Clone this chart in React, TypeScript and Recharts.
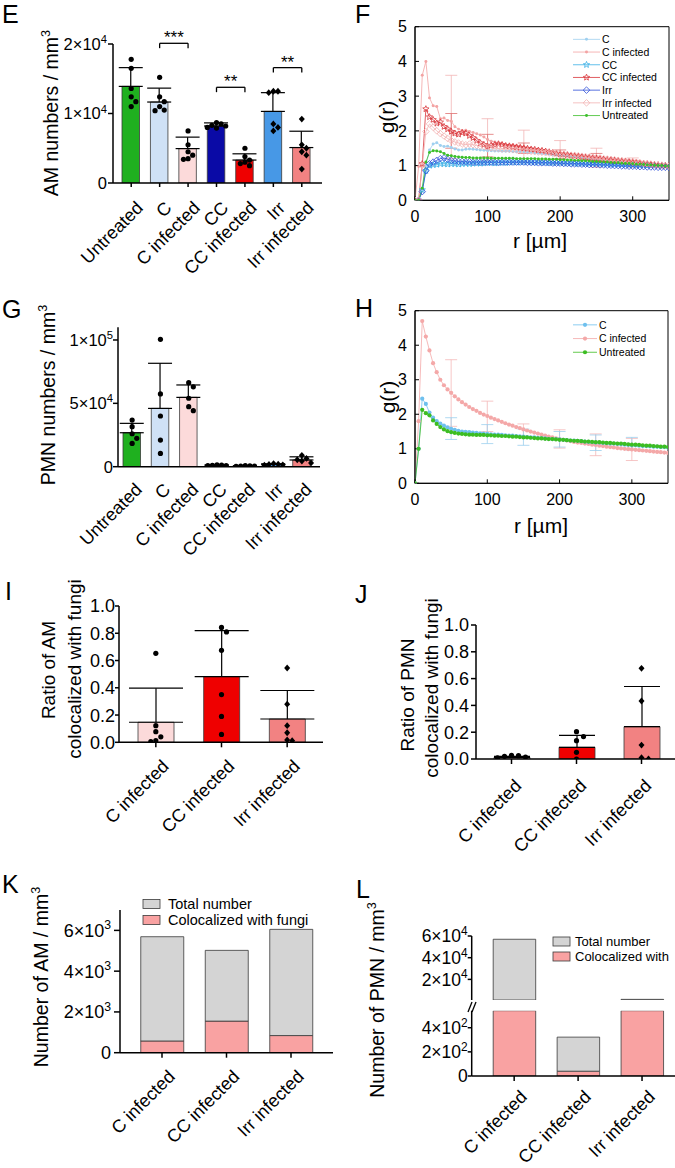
import React from "react";
import {
  ComposedChart,
  LineChart,
  Bar,
  Line,
  Scatter,
  XAxis,
  YAxis,
  ErrorBar,
  Cell,
  ReferenceLine,
  ReferenceDot,
  ReferenceArea,
} from "recharts";

const FONT = '"Liberation Sans", Arial, Helvetica, sans-serif';

// ---------- E / G: cell numbers per group ----------
const groups7 = ["Untreated", "C", "C infected", "CC", "CC infected", "Irr", "Irr infected"];
const colors7 = ["#1fb01f", "#cfe1f6", "#fcdada", "#0a0aa6", "#ef0000", "#4798e6", "#f28282"];
const marks7 = ["circle", "circle", "circle", "circle", "circle", "diamond", "diamond"];

const amMean = [13900, 11650, 4950, 8200, 3300, 10300, 5100];
const amSd = [2700, 2000, 1650, 450, 900, 2700, 2350];
const amPts = [
  [17800, 16500, 13600, 12400, 11700, 11000],
  [15200, 12400, 11700, 11000, 10500, 10400],
  [7500, 5500, 4500, 4000, 3500, 3400],
  [8700, 8500, 8300, 8200, 8000, 7900],
  [5000, 3800, 3300, 3000, 2800, 2500],
  [13200, 13200, 13000, 8500, 8000, 7500],
  [9200, 5500, 5000, 4500, 4000, 2000],
];
const sigPairs = [[1, 2], [3, 4], [5, 6]];
const sigLabels = ["***", "**", "**"];
const sigLevels = [20100, 13770, 16600];

const pmnMean = [26800, 46000, 54700, 1100, 550, 1800, 5300];
const pmnSd = [7400, 35600, 9800, 300, 200, 500, 2500];
const pmnPts = [
  [36800, 31600, 26000, 22400, 18400],
  [100500, 57400, 40000, 21000, 10500],
  [66300, 63000, 54000, 47400, 44200],
  [1500, 1200, 1000, 900, 800],
  [900, 600, 500, 400, 300],
  [2500, 2000, 1800, 1500, 1200],
  [9000, 6500, 5500, 4500, 3000],
];

// ---------- I / J: colocalization ratios ----------
const groups3 = ["C infected", "CC infected", "Irr infected"];
const colors3 = ["#fcdada", "#ef0000", "#f28282"];
const marks3 = ["circle", "circle", "diamond"];

const amRatioMean = [0.147, 0.482, 0.171];
const amRatioSd = [0.25, 0.338, 0.209];
const amRatioPts = [
  [0.653, 0.122, 0.078, 0.04, 0.012, 0.005],
  [0.843, 0.81, 0.675, 0.35, 0.19, 0.058],
  [0.545, 0.28, 0.122, 0.07, 0.017, 0.012],
];

const pmnRatioMean = [0.012, 0.087, 0.241];
const pmnRatioSd = [0.008, 0.09, 0.3];
const pmnRatioPts = [
  [0.028, 0.025, 0.02, 0.015, 0.008],
  [0.204, 0.167, 0.137, 0.05, 0.0],
  [0.677, 0.433, 0.104, 0.01, 0.0],
];

// ---------- K / L: total vs colocalized ----------
const amTotal = [5690, 5020, 6050];
const amColoc = [575, 1550, 840];
const pmnTotal = [57000, 322, 1600];
const pmnColoc = [900, 40, 800];

// ---------- F / H: pair correlation g(r) ----------
const rGrid = [
  0, 5, 10, 15, 20, 25, 30, 35, 40, 45, 50, 55, 60, 65, 70, 75, 80, 85, 90, 95,
  100, 105, 110, 115, 120, 125, 130, 135, 140, 145, 150, 155, 160, 165, 170, 175, 180, 185, 190, 195,
  200, 205, 210, 215, 220, 225, 230, 235, 240, 245, 250, 255, 260, 265, 270, 275, 280, 285, 290, 295,
  300, 305, 310, 315, 320, 325, 330, 335, 340, 345, 350,
];
const rTicks = [0, 100, 200, 300];
const gTicks = [0, 1, 2, 3, 4, 5];

const fC = [
  0, 0, 0.3, 1.0, 1.45, 1.62, 1.66, 1.58, 1.55, 1.56,
  1.52, 1.48, 1.45, 1.45, 1.47, 1.48, 1.47, 1.46, 1.45, 1.44,
  1.43, 1.43, 1.42, 1.42, 1.41, 1.41, 1.41, 1.4, 1.4, 1.4,
  1.4, 1.39, 1.38, 1.37, 1.36, 1.35, 1.34, 1.33, 1.32, 1.31,
  1.3, 1.29, 1.28, 1.27, 1.26, 1.24, 1.23, 1.22, 1.2, 1.19,
  1.18, 1.17, 1.16, 1.15, 1.14, 1.13, 1.12, 1.11, 1.1, 1.09,
  1.08, 1.07, 1.06, 1.05, 1.04, 1.03, 1.02, 1.02, 1.01, 1.0,
  1.0,
];
const fCi = [
  0, 0.97, 3.6, 4.0, 2.95, 2.72, 2.7, 2.35, 2.37, 2.3,
  2.28, 2.12, 2.05, 2.0, 2.02, 1.98, 1.95, 1.92, 1.88, 1.82,
  1.75, 1.7, 1.68, 1.65, 1.63, 1.6, 1.59, 1.58, 1.57, 1.55,
  1.53, 1.51, 1.49, 1.47, 1.46, 1.44, 1.43, 1.41, 1.4, 1.38,
  1.37, 1.35, 1.34, 1.32, 1.31, 1.29, 1.28, 1.26, 1.25, 1.23,
  1.22, 1.21, 1.19, 1.18, 1.17, 1.15, 1.14, 1.13, 1.12, 1.11,
  1.1, 1.09, 1.08, 1.07, 1.06, 1.05, 1.04, 1.03, 1.02, 1.01,
  1.0,
];
const fCC = [
  0, 0, 0.3, 0.85, 1.0, 1.02, 1.03, 1.05, 1.05, 1.04,
  1.05, 1.05, 1.04, 1.05, 1.06, 1.05, 1.06, 1.07, 1.06, 1.07,
  1.08, 1.08, 1.07, 1.08, 1.09, 1.08, 1.09, 1.1, 1.09, 1.1,
  1.1, 1.1, 1.1, 1.09, 1.1, 1.09, 1.09, 1.08, 1.08, 1.08,
  1.08, 1.07, 1.07, 1.07, 1.06, 1.06, 1.06, 1.05, 1.05, 1.05,
  1.05, 1.04, 1.04, 1.04, 1.03, 1.03, 1.03, 1.02, 1.02, 1.02,
  1.02, 1.01, 1.01, 1.01, 1.0, 1.0, 1.0, 1.0, 0.99, 0.99,
  0.99,
];
const fCCi = [
  0, 0, 1.05, 2.63, 2.4, 2.32, 2.22, 2.25, 2.12, 2.05,
  1.98, 1.93, 1.9, 1.95, 1.93, 1.86, 1.8, 1.72, 1.65, 1.6,
  1.55, 1.58, 1.6, 1.62, 1.6, 1.57, 1.56, 1.55, 1.53, 1.52,
  1.5, 1.49, 1.47, 1.46, 1.44, 1.43, 1.41, 1.39, 1.37, 1.35,
  1.33, 1.32, 1.31, 1.29, 1.28, 1.27, 1.25, 1.24, 1.23, 1.22,
  1.21, 1.2, 1.18, 1.17, 1.16, 1.15, 1.14, 1.13, 1.12, 1.11,
  1.1, 1.09, 1.07, 1.06, 1.05, 1.04, 1.03, 1.02, 1.01, 1.0,
  1.0,
];
const fIrr = [
  0, 0, 0.25, 0.85, 1.05, 1.1, 1.15, 1.2, 1.22, 1.18,
  1.15, 1.13, 1.12, 1.12, 1.11, 1.11, 1.1, 1.1, 1.1, 1.1,
  1.1, 1.1, 1.1, 1.09, 1.1, 1.1, 1.1, 1.1, 1.1, 1.1,
  1.1, 1.09, 1.09, 1.09, 1.08, 1.08, 1.08, 1.08, 1.07, 1.07,
  1.07, 1.06, 1.06, 1.05, 1.05, 1.05, 1.04, 1.04, 1.03, 1.03,
  1.03, 1.02, 1.02, 1.01, 1.01, 1.0, 1.0, 0.99, 0.99, 0.98,
  0.98, 0.98, 0.97, 0.97, 0.96, 0.96, 0.96, 0.95, 0.95, 0.95,
  0.95,
];
const fIrri = [
  0, 0, 1.0, 1.98, 2.2, 2.1, 2.0, 1.92, 1.85, 1.78,
  1.72, 1.68, 1.65, 1.62, 1.6, 1.62, 1.6, 1.58, 1.56, 1.55,
  1.53, 1.51, 1.5, 1.49, 1.48, 1.48, 1.47, 1.46, 1.45, 1.44,
  1.43, 1.42, 1.41, 1.4, 1.39, 1.38, 1.37, 1.36, 1.35, 1.34,
  1.33, 1.32, 1.31, 1.3, 1.29, 1.28, 1.27, 1.26, 1.25, 1.24,
  1.23, 1.22, 1.2, 1.19, 1.18, 1.17, 1.15, 1.14, 1.13, 1.12,
  1.1, 1.09, 1.08, 1.06, 1.05, 1.04, 1.02, 1.01, 1.0, 0.99,
  0.98,
];
const fUnt = [
  0, 0, 0.35, 1.1, 1.38, 1.43, 1.42, 1.4, 1.35, 1.3,
  1.28, 1.26, 1.25, 1.24, 1.23, 1.23, 1.22, 1.22, 1.22, 1.22,
  1.22, 1.21, 1.21, 1.21, 1.21, 1.21, 1.21, 1.21, 1.2, 1.2,
  1.2, 1.2, 1.2, 1.2, 1.19, 1.19, 1.19, 1.18, 1.18, 1.18,
  1.17, 1.17, 1.16, 1.16, 1.15, 1.15, 1.14, 1.14, 1.13, 1.12,
  1.12, 1.11, 1.1, 1.1, 1.09, 1.08, 1.08, 1.07, 1.06, 1.06,
  1.05, 1.04, 1.04, 1.03, 1.02, 1.02, 1.01, 1.0, 1.0, 0.99,
  0.99,
];

const hC = [
  0, 1.0, 2.45, 2.3, 2.05, 1.9, 1.8, 1.73, 1.67, 1.62,
  1.58, 1.55, 1.52, 1.5, 1.49, 1.48, 1.47, 1.46, 1.45, 1.44,
  1.43, 1.42, 1.41, 1.41, 1.4, 1.39, 1.38, 1.38, 1.37, 1.36,
  1.35, 1.34, 1.33, 1.33, 1.32, 1.31, 1.3, 1.29, 1.28, 1.28,
  1.27, 1.26, 1.25, 1.24, 1.24, 1.23, 1.22, 1.21, 1.2, 1.19,
  1.18, 1.18, 1.17, 1.16, 1.15, 1.15, 1.14, 1.13, 1.12, 1.11,
  1.1, 1.1, 1.09, 1.08, 1.08, 1.07, 1.06, 1.06, 1.05, 1.05,
  1.04,
];
const hCi = [
  0, 1.8, 4.7, 4.25, 3.85, 3.48, 3.22, 3.0, 2.84, 2.72,
  2.62, 2.52, 2.43, 2.35, 2.28, 2.21, 2.15, 2.1, 2.04, 1.99,
  1.95, 1.9, 1.86, 1.82, 1.78, 1.74, 1.7, 1.67, 1.63, 1.6,
  1.56, 1.53, 1.5, 1.47, 1.44, 1.41, 1.38, 1.35, 1.33, 1.3,
  1.28, 1.26, 1.24, 1.22, 1.2, 1.18, 1.17, 1.15, 1.14, 1.12,
  1.11, 1.09, 1.08, 1.06, 1.05, 1.04, 1.02, 1.01, 1.0, 0.99,
  0.98, 0.97, 0.96, 0.95, 0.94, 0.93, 0.92, 0.91, 0.9, 0.89,
  0.88,
];
const hUnt = [
  0, 1.0, 2.13, 2.03, 1.97, 1.82, 1.72, 1.63, 1.56, 1.51,
  1.48, 1.46, 1.44, 1.43, 1.42, 1.41, 1.41, 1.4, 1.4, 1.4,
  1.39, 1.39, 1.38, 1.38, 1.37, 1.37, 1.36, 1.35, 1.35, 1.34,
  1.33, 1.33, 1.32, 1.31, 1.3, 1.3, 1.29, 1.28, 1.28, 1.27,
  1.26, 1.26, 1.25, 1.24, 1.23, 1.23, 1.22, 1.21, 1.21, 1.2,
  1.19, 1.19, 1.18, 1.17, 1.17, 1.16, 1.15, 1.15, 1.14, 1.13,
  1.12, 1.12, 1.11, 1.1, 1.09, 1.09, 1.08, 1.07, 1.06, 1.06,
  1.05,
];

// error bars (upper / lower ends) at these radii
const errR = [50, 100, 150, 200, 250, 300];
const fCiHi = [3.6, 2.35, 2.02, 1.72, 1.5, 1.22];
const fCiLo = [1.2, 1.15, 1.1, 1.05, 0.95, 0.95];
const fCCiHi = [2.5, 1.9, 1.65, 1.45, 1.35, 1.15];
const fCCiLo = [1.5, 1.25, 1.35, 1.2, 1.1, 1.0];
const hCiHi = [3.58, 2.38, 1.72, 1.55, 1.43, 1.3];
const hCiLo = [1.65, 1.5, 1.35, 1.02, 0.8, 0.66];
const hCHi = [1.9, 1.7, 1.57, 1.5, 1.4, 1.33];
const hCLo = [1.27, 1.15, 1.1, 1.05, 0.95, 0.97];

type Series = { key: string; name: string; color: string; mark: string; vals: number[] };

const seriesF: Series[] = [
  { key: "c", name: "C", color: "#9fd0f0", mark: "dot", vals: fC },
  { key: "ci", name: "C infected", color: "#f3a3a3", mark: "dot", vals: fCi },
  { key: "cc", name: "CC", color: "#3bb0e6", mark: "star", vals: fCC },
  { key: "cci", name: "CC infected", color: "#d9363b", mark: "star", vals: fCCi },
  { key: "irr", name: "Irr", color: "#2f4fd8", mark: "diamond", vals: fIrr },
  { key: "irri", name: "Irr infected", color: "#f2b3b3", mark: "diamond", vals: fIrri },
  { key: "unt", name: "Untreated", color: "#3cbf2a", mark: "dot", vals: fUnt },
];
const seriesH: Series[] = [
  { key: "ci", name: "C infected", color: "#f4a8a8", mark: "dot", vals: hCi },
  { key: "c", name: "C", color: "#6fc0ee", mark: "dot", vals: hC },
  { key: "unt", name: "Untreated", color: "#3cbd22", mark: "dot", vals: hUnt },
];
const legendH = [seriesH[1], seriesH[0], seriesH[2]];

type Rect = { left: number; top: number; width: number; height: number };
type Plot = { x0: number; x1: number; y0: number; y1: number };

const margins = (b: Rect, p: Plot, withX = true) => ({
  left: p.x0 - 50,
  right: b.width - p.x1,
  top: p.y0,
  bottom: b.height - p.y1 - (withX ? 30 : 0),
});

// spread points sideways when their values are close
function swarm(pts: number[][], tol: number) {
  const out: { x: number; v: number; s: number }[] = [];
  pts.forEach((vals, gi) => {
    const placed: { v: number; s: number }[] = [];
    vals.forEach(v => {
      let s = 0;
      for (let k = 0; k < 14; k++) {
        s = k === 0 ? 0 : k % 2 ? (k + 1) / 2 : -k / 2;
        if (!placed.some(p => p.s === s && Math.abs(p.v - v) < tol)) break;
      }
      placed.push({ v, s });
      out.push({ x: gi, v, s });
    });
  });
  return out;
}

const sciTick = (fs: number) => (p: any) => {
  const v = p.payload.value;
  const exp = v === 0 ? 0 : Math.floor(Math.log10(v) + 1e-9);
  const m = v === 0 ? 0 : Math.round(v / Math.pow(10, exp));
  return (
    <text x={p.x} y={p.y} dy={fs * 0.36} textAnchor="end" fontSize={fs} fontFamily={FONT} fill="#000">
      {v === 0 ? "0" : `${m}×10`}
      {v !== 0 && (
        <tspan dy={-fs * 0.42} fontSize={fs * 0.68}>
          {exp}
        </tspan>
      )}
    </text>
  );
};

const decTick = (fs: number) => (p: any) => (
  <text x={p.x} y={p.y} dy={fs * 0.36} textAnchor="end" fontSize={fs} fontFamily={FONT} fill="#000">
    {Number(p.payload.value).toFixed(1)}
  </text>
);

const catTick = (names: string[], fs: number, dx: number, dy: number) => (p: any) => {
  const x = p.x + dx;
  const y = p.y + dy;
  return (
    <text x={x} y={y} transform={`rotate(-45 ${x} ${y})`} textAnchor="end" fontSize={fs} fontFamily={FONT} fill="#000">
      {names[p.payload.value]}
    </text>
  );
};

const dotShape = (marks: string[], step: number) => (p: any) => {
  const d = p.payload ?? p;
  const cx = p.cx + d.s * step;
  const cy = p.cy;
  if (marks[d.x] === "diamond") {
    return <path d={`M${cx},${cy - 3.4}L${cx + 3},${cy}L${cx},${cy + 3.4}L${cx - 3},${cy}Z`} fill="#000" />;
  }
  return <circle cx={cx} cy={cy} r={2.6} fill="#000" />;
};

type DotBarsProps = {
  names: string[];
  means: number[];
  sds: number[];
  pts: number[][];
  colors: string[];
  marks: string[];
  box: Rect;
  plot: Plot;
  yMax: number;
  yTicks: number[];
  yTick: any;
  ySize: number;
  yGap: number;
  pad: { left: number; right: number };
  barSize: number;
  cap: number;
  xTickSize: number;
  cat: { fs: number; dx: number; dy: number };
  step: number;
  children?: React.ReactNode;
};

function DotBars(props: DotBarsProps) {
  const { names, means, sds, pts, colors, marks, box, plot, yMax, yTicks, yTick, ySize, yGap, pad, barSize, cap, xTickSize, cat, step } = props;
  const table = names.map((n, i) => ({ x: i, name: n, mean: means[i], err: [0, sds[i]] }));
  const dots = swarm(pts, yMax * 0.04);
  return (
    <div style={{ position: "absolute", left: box.left, top: box.top }}>
      <ComposedChart width={box.width} height={box.height} data={table} margin={margins(box, plot)}>
        <XAxis
          type="number"
          dataKey="x"
          domain={[-0.5, names.length - 0.5]}
          ticks={names.map((_, i) => i)}
          allowDataOverflow
          padding={pad}
          height={30}
          interval={0}
          axisLine={{ stroke: "#000", strokeWidth: 1.5 }}
          tickLine={xTickSize > 0 ? { stroke: "#000", strokeWidth: 1.5 } : false}
          tickSize={xTickSize}
          tickMargin={0}
          tick={catTick(names, cat.fs, cat.dx, cat.dy)}
        />
        <YAxis
          type="number"
          domain={[0, yMax]}
          ticks={yTicks}
          allowDataOverflow
          width={50}
          interval={0}
          axisLine={{ stroke: "#000", strokeWidth: 1.5 }}
          tickLine={{ stroke: "#000", strokeWidth: 1.5 }}
          tickSize={ySize}
          tickMargin={yGap}
          tick={yTick}
        />
        <Bar dataKey="mean" barSize={barSize} stroke="#3a3a3a" strokeWidth={0.8} isAnimationActive={false}>
          {colors.map((c, i) => (
            <Cell key={i} fill={c} />
          ))}
          <ErrorBar dataKey="err" width={cap} stroke="#000" strokeWidth={1.2} direction="y" />
        </Bar>
        <Scatter data={dots} dataKey="v" isAnimationActive={false} shape={dotShape(marks, step)} />
        {props.children}
      </ComposedChart>
    </div>
  );
}

type StackProps = {
  names: string[];
  totals: number[];
  parts: number[];
  box: Rect;
  plot: Plot;
  yDomain: [number, number];
  yTicks: number[];
  ySize: number;
  yGap: number;
  pad: { left: number; right: number };
  barSize: number;
  showX: boolean;
  fs: number;
  cat: { fs: number; dx: number; dy: number };
};

function StackBars(props: StackProps) {
  const { names, totals, parts, box, plot, yDomain, yTicks, ySize, yGap, pad, barSize, showX, fs, cat } = props;
  const table = names.map((n, i) => ({ x: i, name: n, part: parts[i], rest: totals[i] - parts[i] }));
  return (
    <div style={{ position: "absolute", left: box.left, top: box.top }}>
      <ComposedChart width={box.width} height={box.height} data={table} margin={margins(box, plot, showX)}>
        <XAxis
          type="number"
          dataKey="x"
          domain={[-0.5, names.length - 0.5]}
          ticks={names.map((_, i) => i)}
          allowDataOverflow
          padding={pad}
          hide={!showX}
          height={30}
          interval={0}
          axisLine={{ stroke: "#000", strokeWidth: 1.5 }}
          tickLine={{ stroke: "#000", strokeWidth: 1.5 }}
          tickSize={5}
          tickMargin={0}
          tick={catTick(names, cat.fs, cat.dx, cat.dy)}
        />
        <YAxis
          type="number"
          domain={yDomain}
          ticks={yTicks}
          allowDataOverflow
          width={50}
          interval={0}
          axisLine={{ stroke: "#000", strokeWidth: 1.5 }}
          tickLine={{ stroke: "#000", strokeWidth: 1.5 }}
          tickSize={ySize}
          tickMargin={yGap}
          tick={sciTick(fs)}
        />
        <Bar dataKey="part" stackId="s" barSize={barSize} fill="#f9a2a2" stroke="#3a3a3a" strokeWidth={0.8} isAnimationActive={false} />
        <Bar dataKey="rest" stackId="s" barSize={barSize} fill="#d4d4d4" stroke="#3a3a3a" strokeWidth={0.8} isAnimationActive={false} />
      </ComposedChart>
    </div>
  );
}

function markGlyph(kind: string, cx: number, cy: number, color: string, s: number, key?: React.Key) {
  if (kind === "diamond") {
    return (
      <path key={key} d={`M${cx},${cy - s}L${cx + s},${cy}L${cx},${cy + s}L${cx - s},${cy}Z`} fill="none" stroke={color} strokeWidth={0.8} />
    );
  }
  if (kind === "star") {
    let d = "";
    for (let k = 0; k < 10; k++) {
      const a = ((-90 + k * 36) * Math.PI) / 180;
      const rr = k % 2 ? s * 0.45 : s;
      d += `${k ? "L" : "M"}${cx + rr * Math.cos(a)},${cy + rr * Math.sin(a)}`;
    }
    return <path key={key} d={d + "Z"} fill="none" stroke={color} strokeWidth={0.8} />;
  }
  return <circle key={key} cx={cx} cy={cy} r={s * 0.62} fill={color} />;
}

type ErrSet = { color: string; vals: number[]; hi: number[]; lo: number[] };

function GrPanel({ series, errs, box, plot, mSize }: { series: Series[]; errs: ErrSet[]; box: Rect; plot: Plot; mSize: number }) {
  const table = rGrid.map((r, i) => {
    const row: any = { r };
    series.forEach(s => (row[s.key] = s.vals[i]));
    return row;
  });
  const errData = errs.map(e =>
    errR.map((r, j) => {
      const y = e.vals[rGrid.indexOf(r)];
      return { r, y, e: [y - e.lo[j], e.hi[j] - y] };
    })
  );
  const axis = { stroke: "#000", strokeWidth: 1 };
  return (
    <div style={{ position: "absolute", left: box.left, top: box.top }}>
      <LineChart width={box.width} height={box.height} data={table} margin={margins(box, plot)}>
        <XAxis
          type="number"
          dataKey="r"
          domain={[0, 350]}
          ticks={rTicks}
          allowDataOverflow
          height={30}
          interval={0}
          axisLine={axis}
          tickLine={axis}
          tickSize={-4}
          tickMargin={14}
          tick={{ fill: "#000", fontSize: 16, fontFamily: FONT }}
        />
        <XAxis xAxisId="top" orientation="top" type="number" domain={[0, 350]} ticks={rTicks} allowDataOverflow height={0} axisLine={axis} tickLine={axis} tickSize={-4} tick={false} />
        <YAxis
          type="number"
          domain={[0, 5]}
          ticks={gTicks}
          allowDataOverflow
          width={50}
          interval={0}
          axisLine={axis}
          tickLine={axis}
          tickSize={-4}
          tickMargin={12}
          tick={{ fill: "#000", fontSize: 16, fontFamily: FONT }}
        />
        <YAxis yAxisId="right" orientation="right" type="number" domain={[0, 5]} ticks={gTicks} allowDataOverflow width={0} axisLine={axis} tickLine={axis} tickSize={-4} tick={false} />
        <ReferenceArea x1={0} x2={350} y1={0} y2={5} fill="none" stroke="#000" strokeWidth={1} />
        {errs.map((e, i) => (
          <Line key={`e${i}`} data={errData[i]} dataKey="y" stroke="none" dot={false} activeDot={false} isAnimationActive={false}>
            <ErrorBar dataKey="e" width={6} stroke={e.color} strokeWidth={0.8} direction="y" />
          </Line>
        ))}
        {series.map(s => (
          <Line
            key={s.key}
            dataKey={s.key}
            stroke={s.color}
            strokeWidth={0.8}
            activeDot={false}
            isAnimationActive={false}
            dot={(p: any) => markGlyph(s.mark, p.cx, p.cy, s.color, s.mark === "dot" ? mSize : mSize + 0.9, p.index)}
          />
        ))}
      </LineChart>
    </div>
  );
}

function SeriesLegend({ items, left, top, rowH, lineW, fs, mSize }: { items: Series[]; left: number; top: number; rowH: number; lineW: number; fs: number; mSize: number }) {
  return (
    <svg style={{ position: "absolute", left, top, overflow: "visible" }} width={95} height={rowH * items.length}>
      {items.map((s, i) => {
        const cy = rowH * (i + 0.5);
        return (
          <g key={s.key + i}>
            <line x1={0} x2={lineW} y1={cy} y2={cy} stroke={s.color} strokeWidth={0.8} />
            {markGlyph(s.mark, lineW / 2, cy, s.color, s.mark === "dot" ? mSize : mSize + 0.9)}
            <text x={lineW + 2} y={cy} dy={fs * 0.36} fontSize={fs} fontFamily={FONT} fill="#000">
              {s.name}
            </text>
          </g>
        );
      })}
    </svg>
  );
}

function BoxLegend({ left, top, rowH, fs, gap, labels }: { left: number; top: number; rowH: number; fs: number; gap: number; labels: string[] }) {
  const fills = ["#d4d4d4", "#f9a2a2"];
  return (
    <svg style={{ position: "absolute", left, top, overflow: "visible" }} width={170} height={rowH * 2}>
      {labels.map((l, i) => {
        const cy = rowH * (i + 0.5);
        return (
          <g key={l}>
            <rect x={0} y={cy - 4.5} width={17} height={9} fill={fills[i]} stroke="#3a3a3a" strokeWidth={0.8} />
            <text x={gap} y={cy} dy={fs * 0.36} fontSize={fs} fontFamily={FONT} fill="#000">
              {l}
            </text>
          </g>
        );
      })}
    </svg>
  );
}

const Sup = ({ children }: { children: React.ReactNode }) => (
  <span style={{ fontSize: "0.65em", position: "relative", top: "-0.6em" }}>{children}</span>
);

function Txt({ x, y, fs, rot, children }: { x: number; y: number; fs: number; rot?: boolean; children: React.ReactNode }) {
  return (
    <div
      style={{
        position: "absolute",
        left: x,
        top: y,
        fontSize: fs,
        lineHeight: 1,
        whiteSpace: "nowrap",
        transform: `translate(-50%, -50%)${rot ? " rotate(-90deg)" : ""}`,
      }}
    >
      {children}
    </div>
  );
}

const Letter = ({ x, y, children }: { x: number; y: number; children: React.ReactNode }) => (
  <div style={{ position: "absolute", left: x, top: y, fontSize: 25, lineHeight: 1 }}>{children}</div>
);

export default function App() {
  const catE = { fs: 18, dx: 13, dy: 22 };
  const catG = { fs: 18, dx: 11, dy: 24 };
  const catLow = { fs: 18, dx: 14, dy: 20 };
  return (
    <div style={{ position: "absolute", left: 0, top: 0, width: 675, height: 1168, overflow: "hidden", background: "#fff", fontFamily: FONT, color: "#000" }}>
      {/* E */}
      <DotBars
        names={groups7}
        means={amMean}
        sds={amSd}
        pts={amPts}
        colors={colors7}
        marks={marks7}
        box={{ left: 0, top: 0, width: 335, height: 290 }}
        plot={{ x0: 113, x1: 322, y0: 44, y1: 183 }}
        yMax={20000}
        yTicks={[0, 10000, 20000]}
        yTick={sciTick(16.5)}
        ySize={5}
        yGap={1}
        pad={{ left: 4, right: 6 }}
        barSize={17.5}
        cap={12}
        xTickSize={4}
        cat={catE}
        step={4.6}
      >
        {sigPairs.map(([a, b], i) => (
          <ReferenceLine key={`h${i}`} segment={[{ x: a, y: sigLevels[i] }, { x: b, y: sigLevels[i] }]} stroke="#000" strokeWidth={1.3} ifOverflow="visible" />
        ))}
        {sigPairs.map(([a], i) => (
          <ReferenceLine key={`a${i}`} segment={[{ x: a, y: sigLevels[i] }, { x: a, y: sigLevels[i] - 700 }]} stroke="#000" strokeWidth={1.3} ifOverflow="visible" />
        ))}
        {sigPairs.map(([, b], i) => (
          <ReferenceLine key={`b${i}`} segment={[{ x: b, y: sigLevels[i] }, { x: b, y: sigLevels[i] - 700 }]} stroke="#000" strokeWidth={1.3} ifOverflow="visible" />
        ))}
        {sigPairs.map(([a, b], i) => (
          <ReferenceDot
            key={`l${i}`}
            x={(a + b) / 2}
            y={sigLevels[i]}
            r={0}
            fill="none"
            stroke="none"
            ifOverflow="visible"
            label={{ value: sigLabels[i], position: "top", offset: 0, fontSize: 17, fill: "#000", fontFamily: FONT }}
          />
        ))}
      </DotBars>
      <Letter x={2} y={2}>E</Letter>
      <Txt x={52} y={113} fs={19.5} rot>
        AM numbers / mm<Sup>3</Sup>
      </Txt>

      {/* F */}
      <GrPanel
        series={seriesF}
        errs={[
          { color: "#f3b5b5", vals: fCi, hi: fCiHi, lo: fCiLo },
          { color: "#e07070", vals: fCCi, hi: fCCiHi, lo: fCCiLo },
        ]}
        box={{ left: 340, top: 0, width: 335, height: 290 }}
        plot={{ x0: 75, x1: 329, y0: 26.7, y1: 200.3 }}
        mSize={2.4}
      />
      <SeriesLegend items={seriesF} left={573} top={33} rowH={12.7} lineW={27} fs={10.5} mSize={2.4} />
      <Letter x={355} y={2}>F</Letter>
      <Txt x={386} y={117} fs={21} rot>g(r)</Txt>
      <Txt x={540} y={240} fs={21}>r [µm]</Txt>

      {/* G */}
      <DotBars
        names={groups7}
        means={pmnMean}
        sds={pmnSd}
        pts={pmnPts}
        colors={colors7}
        marks={marks7}
        box={{ left: 0, top: 290, width: 335, height: 280 }}
        plot={{ x0: 118, x1: 320, y0: 37.3, y1: 176.7 }}
        yMax={110000}
        yTicks={[0, 50000, 100000]}
        yTick={sciTick(16.5)}
        ySize={5}
        yGap={0}
        pad={{ left: 0, right: 4 }}
        barSize={17.5}
        cap={12}
        xTickSize={0}
        cat={catG}
        step={4.6}
      />
      <Letter x={2} y={297}>G</Letter>
      <Txt x={49} y={395} fs={19.5} rot>
        PMN numbers / mm<Sup>3</Sup>
      </Txt>

      {/* H */}
      <GrPanel
        series={seriesH}
        errs={[
          { color: "#f4b8b8", vals: hCi, hi: hCiHi, lo: hCiLo },
          { color: "#9ccfee", vals: hC, hi: hCHi, lo: hCLo },
        ]}
        box={{ left: 340, top: 290, width: 335, height: 280 }}
        plot={{ x0: 75, x1: 328, y0: 20.7, y1: 193.3 }}
        mSize={3.4}
      />
      <SeriesLegend items={legendH} left={573} top={318} rowH={13.7} lineW={24} fs={10.5} mSize={3.4} />
      <Letter x={355} y={296}>H</Letter>
      <Txt x={387} y={397} fs={21} rot>g(r)</Txt>
      <Txt x={541} y={525} fs={21}>r [µm]</Txt>

      {/* I */}
      <DotBars
        names={groups3}
        means={amRatioMean}
        sds={amRatioSd}
        pts={amRatioPts}
        colors={colors3}
        marks={marks3}
        box={{ left: 0, top: 570, width: 335, height: 290 }}
        plot={{ x0: 119, x1: 323, y0: 36, y1: 172.3 }}
        yMax={1}
        yTicks={[0, 0.2, 0.4, 0.6, 0.8, 1.0]}
        yTick={decTick(18)}
        ySize={4}
        yGap={0}
        pad={{ left: 4, right: 3 }}
        barSize={36}
        cap={27}
        xTickSize={5}
        cat={catLow}
        step={5}
      />
      <Letter x={5} y={579}>I</Letter>
      <Txt x={48} y={670} fs={19} rot>Ratio of AM</Txt>
      <Txt x={74} y={669} fs={19} rot>colocalized with fungi</Txt>

      {/* J */}
      <DotBars
        names={groups3}
        means={pmnRatioMean}
        sds={pmnRatioSd}
        pts={pmnRatioPts}
        colors={colors3}
        marks={marks3}
        box={{ left: 340, top: 570, width: 345, height: 290 }}
        plot={{ x0: 136, x1: 337, y0: 55, y1: 189 }}
        yMax={1}
        yTicks={[0, 0.2, 0.4, 0.6, 0.8, 1.0]}
        yTick={decTick(18)}
        ySize={5}
        yGap={2}
        pad={{ left: 3, right: 3 }}
        barSize={36}
        cap={18}
        xTickSize={5}
        cat={{ fs: 18, dx: 11, dy: 23 }}
        step={7}
      />
      <Letter x={355} y={582}>J</Letter>
      <Txt x={407} y={695} fs={19} rot>Ratio of PMN</Txt>
      <Txt x={431} y={688} fs={19} rot>colocalized with fungi</Txt>

      {/* K */}
      <StackBars
        names={groups3}
        totals={amTotal}
        parts={amColoc}
        box={{ left: 0, top: 860, width: 335, height: 308 }}
        plot={{ x0: 120, x1: 333, y0: 50, y1: 192.7 }}
        yDomain={[0, 7000]}
        yTicks={[0, 2000, 4000, 6000]}
        ySize={6}
        yGap={3}
        pad={{ left: 9.75, right: 9.75 }}
        barSize={43}
        showX
        fs={18}
        cat={catLow}
      />
      <BoxLegend left={143} top={896} rowH={16} fs={14.5} gap={25} labels={["Total number", "Colocalized with fungi"]} />
      <Letter x={2} y={872}>K</Letter>
      <Txt x={42} y={977} fs={19.5} rot>
        Number of AM / mm<Sup>3</Sup>
      </Txt>

      {/* L: broken axis, upper and lower parts */}
      <StackBars
        names={groups3}
        totals={pmnTotal}
        parts={pmnColoc}
        box={{ left: 340, top: 920, width: 345, height: 90 }}
        plot={{ x0: 131.7, x1: 343, y0: 16, y1: 80 }}
        yDomain={[1000, 60000]}
        yTicks={[20000, 40000, 60000]}
        ySize={4}
        yGap={0}
        pad={{ left: 10.5, right: 9 }}
        barSize={42.5}
        showX={false}
        fs={17.5}
        cat={catLow}
      />
      <StackBars
        names={groups3}
        totals={pmnTotal}
        parts={pmnColoc}
        box={{ left: 340, top: 1000, width: 345, height: 168 }}
        plot={{ x0: 131.7, x1: 343, y0: 10.7, y1: 76 }}
        yDomain={[0, 541]}
        yTicks={[0, 200, 400]}
        ySize={4}
        yGap={0}
        pad={{ left: 10.5, right: 9 }}
        barSize={42.5}
        showX
        fs={17.5}
        cat={{ fs: 18, dx: 14, dy: 17 }}
      />
      <svg style={{ position: "absolute", left: 464, top: 998 }} width={16} height={18}>
        <line x1={4} y1={14} x2={8} y2={4} stroke="#000" strokeWidth={1.3} />
        <line x1={8} y1={14} x2={12} y2={4} stroke="#000" strokeWidth={1.3} />
      </svg>
      <BoxLegend left={553} top={934} rowH={15} fs={13} gap={22} labels={["Total number", "Colocalized with"]} />
      <Letter x={356} y={877}>L</Letter>
      <Txt x={378} y={1000} fs={19.5} rot>
        Number of PMN / mm<Sup>3</Sup>
      </Txt>
    </div>
  );
}
